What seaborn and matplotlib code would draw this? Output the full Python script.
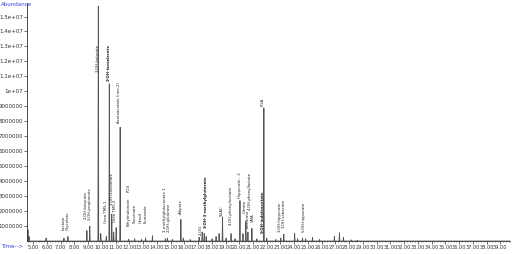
import matplotlib
matplotlib.use("Agg")
import matplotlib.pyplot as plt
import seaborn as sns
import numpy as np
import pandas as pd
from matplotlib.ticker import MultipleLocator, FixedLocator

# ---- data ----
peak_times = [4.62, 4.70, 5.94, 7.24, 7.53, 8.91, 9.12, 9.74, 9.92, 10.32, 10.54, 10.72,
              10.86, 11.04, 11.33, 11.95, 12.38, 12.89, 13.18, 13.68, 14.62, 14.77, 15.13,
              15.75, 15.93, 16.43, 17.08, 17.30, 17.45, 17.59, 18.02, 18.31, 18.53, 18.78,
              19.04, 19.40, 19.69, 20.05, 20.27, 20.48, 20.63, 20.92, 21.28, 21.79, 22.00,
              22.66, 23.02, 23.24, 24.03, 24.25, 24.60, 24.83, 25.33, 25.84, 26.92, 27.29,
              27.58, 28.15, 28.59]
peak_heights = [0.75, 0.30, 0.20, 0.20, 0.30, 0.70, 1.00, 15.7, 0.50, 0.30, 10.5, 1.80,
                0.60, 0.90, 7.60, 0.12, 0.15, 0.10, 0.20, 0.35, 0.15, 0.20, 0.10,
                1.45, 0.20, 0.10, 0.25, 0.60, 0.50, 0.30, 0.15, 0.30, 0.50, 1.60,
                0.20, 0.50, 0.15, 2.70, 0.50, 1.30, 0.60, 0.85, 0.15, 8.90, 0.20,
                0.10, 0.20, 0.45, 0.50, 0.15, 0.20, 0.15, 0.25, 0.10, 0.30, 0.55,
                0.25, 0.08, 0.06]  # x 1e6

label_text = ["Lactate", "Glycolate", "2-OH-butyrate", "3-OH-propionate", "3-OH-butyrate",
              "2-OH-isovalerate", "Urea TMS-1", "3-OH-isovalerate", "Urea TMS-2",
              "Acetoacetate (ime-2)", "Ethylmalonate", "PO4", "Succinate", "Uracil",
              "Fumarate", "3-methylglutaconate 1", "2-OH-glutarate", "Adipate",
              "3-OH-3-methylglutarate", "2-OG", "SUAC", "4-OH-phenylacetate",
              "Hippurate - 2", "Citrate", "Isocitrate", "4-OH-phenyllactate", "VMA",
              "PGA", "5-OH-indoleacetate", "3-OH-hippurate", "3-OH-sebacate",
              "5-OH-hippurate"]
label_time = [7.22, 7.52, 8.86, 9.12, 9.68, 10.52, 10.33, 10.72, 10.98, 11.26, 11.95, 11.98,
              12.42, 12.85, 13.15, 14.60, 14.84, 15.72, 17.58, 17.22, 18.75, 19.35,
              20.02, 20.40, 20.62, 20.80, 21.00, 21.72, 21.72, 22.98, 23.22, 24.70]
label_base = [0.75, 0.75, 1.5, 1.4, 11.3, 10.7, 1.2, 2.4, 1.3, 7.9, 1.0, 3.3,
              1.2, 1.2, 1.2, 0.6, 0.6, 1.8, 0.85, 0.4, 1.7, 1.1,
              2.9, 1.9, 0.9, 2.1, 1.3, 9.0, 0.55, 0.6, 0.85, 0.6]
label_bold = [False, False, False, False, False, True, False, False, False, False, False,
              False, False, False, False, False, False, False, True, False, False, False,
              False, False, False, False, False, False, True, False, False, False]

x_ticks = list(range(5, 40))
x_tick_labels = ["%.2f" % v for v in x_ticks]
y_ticks = [v * 1e6 for v in range(1, 16)]
y_tick_labels = ["%d" % v if v < 1e7 else ("%g" % v) for v in y_ticks]

# ---- build stick trace through peaks ----
half_w = 0.03
tx, ty = [4.56], [0.0]
for t, h in sorted(zip(peak_times, peak_heights)):
    tx += [t - half_w, t, t + half_w]
    ty += [0.0, h * 1e6, 0.0]
tx.append(39.7)
ty.append(0.0)
df = pd.DataFrame({"time": tx, "abund": ty})

sns.set_theme(style="white")
plt.rcParams['font.family'] = ['DejaVu Sans']

fig = plt.figure(figsize=(5.12, 2.54), dpi=100)
ax = fig.add_axes([0.053, 0.051, 0.943, 0.937])
sns.lineplot(data=df, x="time", y="abund", sort=False, estimator=None,
             color="#555555", linewidth=0.6, ax=ax)

for txt, t, b, bold in zip(label_text, label_time, label_base, label_bold):
    ax.text(t, b * 1e6, txt, rotation=90, ha="center", va="bottom",
            fontsize=2.8, color="#222222", fontweight="bold" if bold else "normal")

ax.set_xlim(4.56, 39.7)
ax.set_ylim(0, 15.9e6)
ax.xaxis.set_major_locator(FixedLocator(x_ticks))
ax.set_xticklabels(x_tick_labels)
ax.xaxis.set_minor_locator(MultipleLocator(0.2))
ax.yaxis.set_major_locator(FixedLocator(y_ticks))
ax.set_yticklabels(y_tick_labels)
ax.tick_params(axis="both", which="major", labelsize=4, length=2, width=0.5,
               colors="#333333", pad=1, direction="out")
ax.tick_params(axis="x", which="major", labelsize=3.6)
ax.tick_params(axis="x", which="minor", length=1, width=0.4, color="#333333")
ax.tick_params(axis="x", which="both", bottom=True)
ax.tick_params(axis="y", left=True)
for s in ["top", "right"]:
    ax.spines[s].set_visible(False)
for s in ["left", "bottom"]:
    ax.spines[s].set_color("#333333")
    ax.spines[s].set_linewidth(0.6)
ax.set_xlabel("")
ax.set_ylabel("")

fig.text(0.002, 0.992, "Abundance", fontsize=4, color="#3344dd", ha="left", va="top")
fig.text(0.002, 0.028, "Time-->", fontsize=4, color="#3344dd", ha="left", va="center")

fig.savefig("out.png", dpi=100)
